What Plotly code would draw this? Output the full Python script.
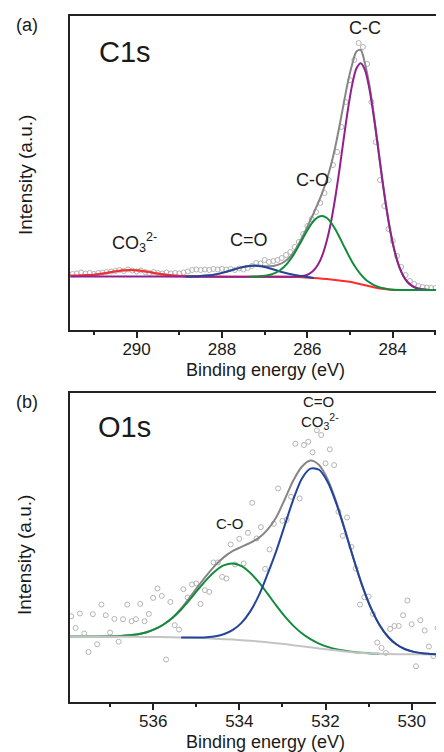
import plotly.graph_objects as go

# ---------------- (a) C1s ----------------
c1s_pts_x = [291.5, 291.4, 291.3, 291.2, 291.1, 291.0, 290.9, 290.8, 290.7, 290.6, 290.5, 290.4, 290.3, 290.2,
             290.1, 290.0, 289.9, 289.8, 289.7, 289.6, 289.5, 289.4, 289.3, 289.2, 289.1, 289.0, 288.9, 288.8,
             288.7, 288.6, 288.5, 288.4, 288.3, 288.2, 288.1, 288.0, 287.9, 287.8, 287.7, 287.6, 287.5, 287.4,
             287.3, 287.2, 287.1, 287.0, 286.9, 286.8, 286.7, 286.6, 286.5, 286.4, 286.3, 286.2, 286.1, 286.0,
             285.9, 285.8, 285.7, 285.6, 285.5, 285.4, 285.3, 285.2, 285.1, 285.0, 284.9, 284.8, 284.7, 284.6,
             284.5, 284.4, 284.3, 284.2, 284.1, 284.0, 283.9, 283.8, 283.7, 283.6, 283.5, 283.4, 283.3, 283.2,
             283.1, 283.0, 282.9]
c1s_pts_y = [56, 56.5, 57.5, 56.5, 57, 56, 57, 57.5, 58, 58.5, 59, 60, 59, 60.5,
             59.5, 58.5, 59.5, 58, 57, 58, 57, 56.5, 57.5, 56.5, 57, 56.5, 57.5, 58.5,
             60, 60.5, 60, 60.5, 60, 61, 60.5, 61, 60.5, 61, 60, 61.5, 60.5, 62,
             64, 67, 66.5, 70, 68, 69, 70, 72, 75, 78, 83, 88, 96, 104,
             111, 118, 127, 137, 150, 165, 178, 203, 228, 250, 270, 287, 283, 266,
             228, 188, 150, 124, 101, 89, 74, 63, 55, 49, 46, 44, 43, 42.5,
             42, 42, 41.5]

c1s_env_x = [291.55, 291.35, 291.15, 290.95, 290.75, 290.55, 290.35, 290.15, 289.95, 289.75, 289.55, 289.35,
             289.15, 288.95, 288.75, 288.55, 288.35, 288.15, 287.95, 287.75, 287.55, 287.35, 287.25, 287.15,
             287.05, 286.95, 286.85, 286.75, 286.65, 286.55, 286.45, 286.35, 286.25, 286.15, 286.05, 285.95,
             285.85, 285.75, 285.65, 285.55, 285.45, 285.35, 285.25, 285.15, 285.05, 284.95, 284.85, 284.75,
             284.65, 284.55, 284.45, 284.35, 284.25, 284.15, 284.05, 283.95, 283.85, 283.75, 283.65, 283.55,
             283.45, 283.35, 283.25, 283.15, 282.85]
c1s_env_y = [53.65, 53.9, 54.45, 55.4, 56.75, 58.3, 59.5, 60.0, 59.5, 58.3, 56.75, 55.4,
             54.45, 53.9, 53.75, 53.9, 54.5, 55.6, 57.6, 60.1, 62.55, 64.2, 64.5, 64.4,
             64.1, 63.75, 63.8, 64.5, 65.8, 68.0, 71.3, 76.0, 82.5, 90.3, 98.7, 107.8,
             117.2, 126.8, 137.4, 149.8, 164.5, 182.5, 203.5, 226.3, 248.1, 265.8, 278.5, 280.0,
             266.1, 245.5, 217.3, 185.1, 152.4, 122.6, 97.2, 77.7, 63.4, 53.8, 47.7, 44.1,
             42.0, 41.0, 40.4, 40.1, 40.0]

c1s_co3_x = [291.55, 291.35, 291.15, 290.95, 290.75, 290.55, 290.35, 290.15, 289.95, 289.75, 289.55, 289.35,
             289.15, 288.95, 288.75, 288.25, 287.5, 286.75, 286.25, 286.05, 285.85, 285.65, 285.45, 285.25,
             285.05, 284.85, 284.65, 284.45, 284.25, 284.05, 283.85, 283.5, 282.85]
c1s_co3_y = [54.6, 54.6, 54.9, 55.6, 56.75, 58.3, 59.5, 60.0, 59.5, 58.3, 56.75, 55.4,
             54.45, 53.9, 53.6, 53.4, 53.3, 53.2, 53.0, 52.5, 52.0, 51.3, 50.5, 49.5,
             48.4, 46.7, 44.8, 42.8, 41.2, 40.3, 40.0, 40.0, 40.0]

c1s_cc_x = [291.55, 289.5, 287.5, 286.55, 286.25, 286.15, 286.05, 285.95, 285.85, 285.75, 285.65, 285.55,
            285.45, 285.35, 285.25, 285.15, 285.05, 284.95, 284.85, 284.75, 284.65, 284.55, 284.45, 284.35,
            284.25, 284.15, 284.05, 283.95, 283.85, 283.75, 283.65, 283.55, 283.45, 283.35, 283.25, 283.15,
            282.85]
c1s_cc_y = [53.5, 53.4, 53.3, 53.2, 53.4, 53.8, 54.5, 56.4, 59.7, 65.4, 74.7, 88.5,
            107.3, 131.5, 160.0, 190.9, 220.6, 245.4, 261.7, 266.8, 259.8, 241.6, 215.0, 183.8,
            151.7, 122.2, 97.1, 77.7, 63.4, 53.8, 47.7, 44.1, 42.0, 41.0, 40.4, 40.1,
            40.0]

c1s_ceo_x = [288.85, 288.75, 288.55, 288.35, 288.15, 287.95, 287.75, 287.55, 287.35, 287.25, 287.15, 286.95,
             286.75, 286.55, 286.35, 286.15, 285.95, 285.85]
c1s_ceo_y = [53.4, 53.5, 53.8, 54.4, 55.6, 57.6, 60.1, 62.6, 64.1, 64.3, 64.1, 62.5,
             60.0, 57.5, 55.4, 53.9, 52.7, 52.1]

c1s_co_x = [287.35, 287.25, 287.15, 287.05, 286.95, 286.85, 286.75, 286.65, 286.55, 286.45, 286.35, 286.25,
            286.15, 286.05, 285.95, 285.85, 285.75, 285.65, 285.55, 285.45, 285.35, 285.25, 285.15, 285.05,
            284.95, 284.85, 284.75, 284.65, 284.55, 284.45, 284.35, 284.25, 284.15, 284.05, 283.85, 283.5,
            282.85]
c1s_co_y = [53.3, 53.4, 53.6, 53.9, 54.5, 55.5, 57.1, 59.5, 63.0, 67.6, 73.5, 80.5,
            88.2, 96.0, 103.3, 109.2, 112.9, 114.0, 112.2, 107.7, 101.0, 93.0, 84.4, 75.9,
            68.0, 61.2, 55.6, 51.1, 47.7, 45.1, 43.2, 41.9, 41.1, 40.5, 40.0, 40.0,
            40.0]

# ---------------- (b) O1s ----------------
o1s_pts_x = [537.9, 537.8, 537.7, 537.6, 537.5, 537.4, 537.3, 537.2, 537.1, 537.0, 536.9, 536.8, 536.7, 536.6,
             536.5, 536.4, 536.3, 536.2, 536.1, 536.0, 535.9, 535.8, 535.7, 535.6, 535.5, 535.4, 535.3, 535.2,
             535.1, 535.0, 534.9, 534.8, 534.7, 534.6, 534.5, 534.4, 534.3, 534.2, 534.1, 534.0, 533.9, 533.8,
             533.7, 533.6, 533.5, 533.4, 533.3, 533.2, 533.1, 533.0, 532.9, 532.8, 532.7, 532.6, 532.5, 532.4,
             532.3, 532.2, 532.1, 532.0, 531.9, 531.8, 531.7, 531.6, 531.5, 531.4, 531.3, 531.2, 531.1, 531.0,
             530.9, 530.8, 530.7, 530.6, 530.5, 530.4, 530.3, 530.2, 530.1, 530.0, 529.9, 529.8, 529.7, 529.6,
             529.5, 529.4, 529.3]
o1s_pts_y = [85.7, 74, 88.4, 68.4, 50, 87.7, 57.7, 97.4, 86.7, 69.4, 83, 60.3, 82.7, 97.4,
             80.7, 82.7, 98, 80.7, 88, 104, 113.4, 106, 42.4, 100, 76.7, 72.4, 112.7, 104.4,
             117.4, 118.4, 98, 111.7, 110, 139.4, 139.4, 125, 123.4, 157.4, 137.4, 163, 138.4, 169,
             199, 163.4, 174.7, 133, 152.4, 178, 213.4, 181, 182, 205, 258, 203.4, 256.7, 260,
             249.4, 271.4, 266.7, 238.4, 252.4, 236.7, 190, 166, 184.4, 155, 133.4, 97.4, 104.7, 105.4,
             88, 59.4, 54, 49, 73, 76, 76, 86.7, 101.4, 77.7, 35.7, 81.7, 71.4, 55.4,
             46, 74, 80.7]

o1s_env_x = [537.95, 537.55, 537.15, 536.95, 536.75, 536.55, 536.35, 536.15, 535.95, 535.75, 535.55, 535.35,
             535.15, 534.95, 534.75, 534.55, 534.35, 534.15, 533.95, 533.75, 533.55, 533.35, 533.15, 532.95,
             532.75, 532.55, 532.35, 532.15, 531.95, 531.75, 531.55, 531.35, 531.15, 530.95, 530.75, 530.55,
             530.35, 530.15, 529.95, 529.75, 529.55, 529.35, 529.15]
o1s_env_y = [65.8, 65.65, 65.65, 65.75, 66.0, 66.6, 67.75, 69.75, 73.0, 77.7, 84.1, 93.5,
             104.5, 116.0, 127.0, 137.0, 145.0, 151.0, 155.0, 159.0, 164.0, 172.0, 184.0, 202.0,
             221.0, 235.0, 241.2, 236.75, 222.45, 199.9, 172.2, 143.4, 116.65, 94.2, 77.2, 65.2,
             57.4, 52.7, 50.1, 48.6, 48.0, 47.7, 47.6]

o1s_co_x = [537.95, 537.55, 537.15, 536.95, 536.75, 536.55, 536.35, 536.15, 535.95, 535.75, 535.55, 535.35,
            535.15, 534.95, 534.75, 534.55, 534.35, 534.15, 533.95, 533.75, 533.55, 533.35, 533.15, 532.95,
            532.75, 532.55, 532.35, 532.15, 531.95, 531.75, 531.55, 531.35, 531.15, 530.95, 530.75]
o1s_co_y = [65.8, 65.65, 65.65, 65.7, 66.0, 66.6, 67.75, 69.75, 73.0, 77.7, 84.1, 92.4,
            102.2, 112.7, 122.8, 131.2, 136.7, 138.3, 135.7, 129.2, 119.7, 108.5, 96.8, 85.8,
            76.3, 68.6, 62.7, 58.25, 55.05, 52.8, 51.2, 50.0, 49.15, 48.5, 48.1]

o1s_ceo_x = [535.35, 535.15, 534.95, 534.75, 534.55, 534.35, 534.15, 533.95, 533.75, 533.55, 533.35, 533.15,
             532.95, 532.75, 532.55, 532.35, 532.15, 531.95, 531.75, 531.55, 531.35, 531.15, 530.95, 530.75,
             530.55, 530.35, 530.15, 529.95, 529.75, 529.55, 529.35, 529.15]
o1s_ceo_y = [64.5, 64.4, 64.4, 64.7, 65.7, 67.9, 72.0, 79.1, 90.3, 106.2, 127.2, 150.0,
             176.0, 202.0, 223.1, 233.1, 232.0, 219.8, 198.5, 171.5, 143.1, 116.5, 94.2, 77.2,
             65.2, 57.4, 52.7, 50.1, 48.6, 48.0, 47.7, 47.6]

o1s_bg_x = [537.95, 537.35, 536.75, 536.15, 535.55, 535.15, 534.75, 534.35, 533.95, 533.55, 533.15, 532.75,
            532.35, 531.95, 531.55, 531.15, 530.75, 530.35, 529.95, 529.15]
o1s_bg_y = [65.8, 65.6, 65.3, 65.0, 64.6, 64.2, 63.6, 62.8, 61.8, 60.5, 58.8, 56.8,
            54.6, 52.4, 50.5, 49.0, 48.1, 47.7, 47.6, 47.5]

# ---------------- styling ----------------
FONT = "Liberation Sans, Arial, sans-serif"
TXT = "#1a1a1a"
PT = "#b4b4b4"
GRAY = "#868686"
LGRAY = "#c4c4c4"
RED = "#ff2b2b"
PURPLE = "#92208f"
BLUE = "#23449a"
GREEN = "#128c3c"

fig = go.Figure()


def line(x, y, color, xa, ya, width=2.0):
    fig.add_trace(go.Scatter(x=x, y=y, mode="lines", xaxis=xa, yaxis=ya,
                             line=dict(color=color, width=width, shape="spline", smoothing=0.8),
                             showlegend=False, hoverinfo="skip"))


def pts(x, y, xa, ya):
    fig.add_trace(go.Scatter(x=x, y=y, mode="markers", xaxis=xa, yaxis=ya,
                             marker=dict(symbol="circle-open", size=5, color=PT, line=dict(width=1, color=PT)),
                             showlegend=False, hoverinfo="skip", cliponaxis=True))


# panel a
pts(c1s_pts_x, c1s_pts_y, "x", "y")
line(c1s_env_x, c1s_env_y, GRAY, "x", "y")
line(c1s_co3_x, c1s_co3_y, RED, "x", "y")
line(c1s_cc_x, c1s_cc_y, PURPLE, "x", "y")
line(c1s_ceo_x, c1s_ceo_y, BLUE, "x", "y")
line(c1s_co_x, c1s_co_y, GREEN, "x", "y")

# panel b
pts(o1s_pts_x, o1s_pts_y, "x2", "y2")
line(o1s_env_x, o1s_env_y, GRAY, "x2", "y2")
line(o1s_co_x, o1s_co_y, GREEN, "x2", "y2")
line(o1s_bg_x, o1s_bg_y, LGRAY, "x2", "y2")
line(o1s_ceo_x, o1s_ceo_y, BLUE, "x2", "y2")

axis_common = dict(showgrid=False, zeroline=False, showline=True, linecolor="#222222", linewidth=2,
                   mirror=True, ticks="outside", ticklen=6, tickwidth=1.5, tickcolor="#222222",
                   ticklabelstandoff=-3,
                   dtick=2, tick0=0, tickfont=dict(family=FONT, size=17, color=TXT),
                   minor=dict(dtick=1, tick0=0, ticks="outside", ticklen=3, tickwidth=1.5, tickcolor="#222222"))
yaxis_common = dict(showgrid=False, zeroline=False, showline=True, linecolor="#222222", linewidth=2,
                    mirror=False, ticks="", showticklabels=False)

# the page body adds an 8px offset, so the figure is 8px smaller and margins shifted
fig.update_layout(
    width=436, height=744,
    margin=dict(l=62, r=0, t=8, b=50),
    paper_bgcolor="white", plot_bgcolor="white",
    xaxis=dict(domain=[0, 1], anchor="y", range=[291.56, 282.80], **axis_common),
    yaxis=dict(domain=[0.5423, 1], anchor="x", range=[0, 314], **yaxis_common),
    xaxis2=dict(domain=[0, 1], anchor="y2", range=[537.93, 529.25], **axis_common),
    yaxis2=dict(domain=[0, 0.4509], anchor="x2", range=[0, 309], **yaxis_common),
)


def ann(text, x, y, size, xref="paper", yref="paper", angle=0):
    fig.add_annotation(text=text, x=x, y=y, xref=xref, yref=yref, showarrow=False,
                       xanchor="center", yanchor="middle", textangle=angle,
                       font=dict(family=FONT, size=size, color=TXT))


# panel letters & titles
ann("(a)", -0.115, 0.9869, 18)
ann("(b)", -0.115, 0.4373, 18)
ann("C1s", 0.147, 0.9475, 29)
ann("O1s", 0.147, 0.4009, 29)
ann("Intensity (a.u.)", -0.1203, 0.7682, 19, angle=-90)
ann("Intensity (a.u.)", -0.1203, 0.2143, 19, angle=-90)
ann("Binding energy (eV)", 0.5214, 0.4840, 18)
ann("Binding energy (eV)", 0.5214, -0.0585, 18)

# peak labels
ann("C-C", 284.65, 302, 18, "x", "y")
ann("C-O", 285.87, 150, 18, "x", "y")
ann("C=O", 287.37, 90, 18, "x", "y")
ann("CO<sub>3</sub><sup>2-</sup>", 290.04, 87, 18, "x", "y")
ann("C=O", 532.17, 299.7, 15, "x2", "y2")
ann("CO<sub>3</sub><sup>2-</sup>", 532.12, 280.7, 15, "x2", "y2")
ann("C-O", 534.21, 178.7, 15, "x2", "y2")

fig.write_html("out.html")
